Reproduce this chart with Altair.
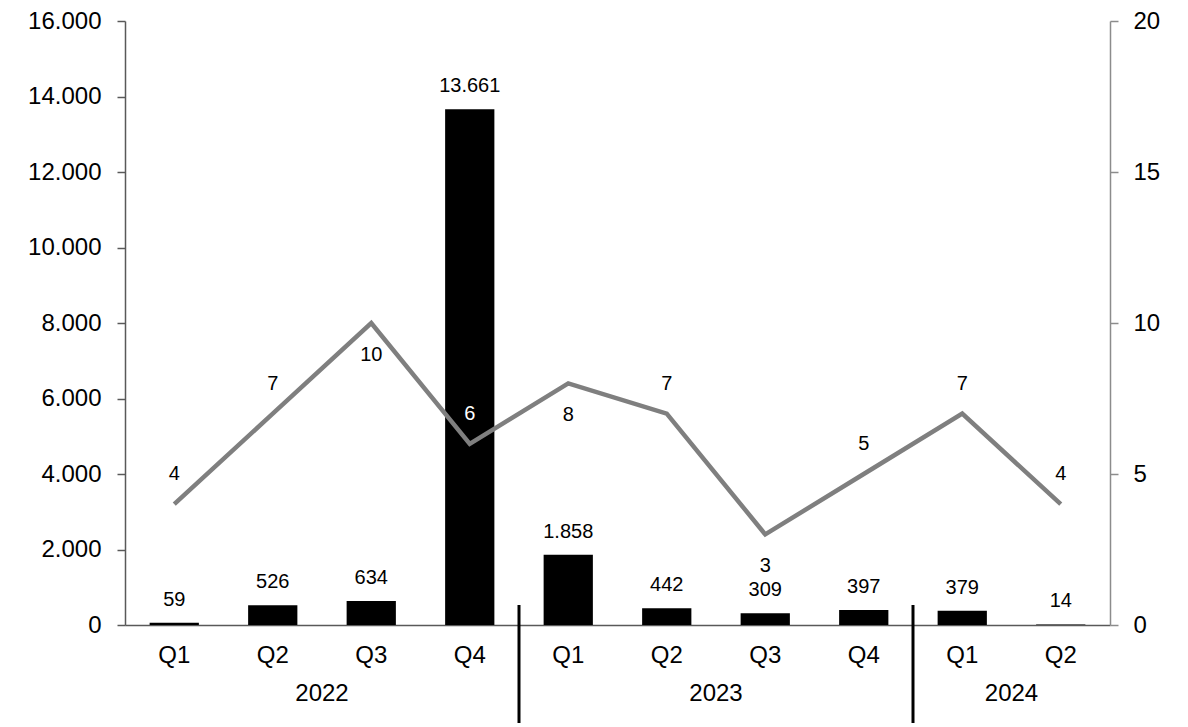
import altair as alt
import pandas as pd

quarters = ["Q1", "Q2", "Q3", "Q4", "Q1", "Q2", "Q3", "Q4", "Q1", "Q2"]
years = ["2022", "2022", "2022", "2022", "2023", "2023", "2023", "2023", "2024", "2024"]
volume = [59, 526, 634, 13661, 1858, 442, 309, 397, 379, 14]
count = [4, 7, 10, 6, 8, 7, 3, 5, 7, 4]
left_ticks = [0, 2000, 4000, 6000, 8000, 10000, 12000, 14000, 16000]
right_ticks = [0, 5, 10, 15, 20]

keys = [f"{y} {q}" for y, q in zip(years, quarters)]
df = pd.DataFrame({"key": keys, "quarter": quarters, "year": years,
                   "volume": volume, "count": count})

# year groups: separators at first quarter of each new year, label at group middle
year_rows = []
sep_keys = []
uniq_years = list(dict.fromkeys(years))
for y in uniq_years:
    idx = [i for i, yy in enumerate(years) if yy == y]
    year_rows.append({"key": keys[idx[0] + len(idx) // 2 - 1], "year": y})
    if idx[0] > 0:
        sep_keys.append(keys[idx[0]])
year_df = pd.DataFrame(year_rows)
sep_df = pd.DataFrame({"key": sep_keys})

FONT = "Liberation Sans"
W, H = 985, 604
TICK_FS = 24
LBL_FS = 20
xscale = alt.Scale(domain=keys, paddingInner=0, paddingOuter=0)
fmt = "replace(format(datum.value, ','), ',', '.')"

xaxis = alt.Axis(labelExpr="split(datum.label, ' ')[1]", labelAngle=0,
                 ticks=False, tickSize=0, labelFontSize=TICK_FS, labelPadding=18,
                 labelColor="black", labelFont=FONT, grid=False,
                 domainColor="#595959", domainWidth=1.5)
leftaxis = alt.Axis(values=left_ticks, labelExpr=fmt, grid=False,
                    labelFontSize=TICK_FS, labelFont=FONT, labelColor="black",
                    labelPadding=16, tickSize=8, tickColor="#595959",
                    domainColor="#595959", domainWidth=1.5, tickWidth=1.5)
rightaxis = alt.Axis(orient="right", values=right_ticks, grid=False,
                     labelFontSize=TICK_FS, labelFont=FONT, labelColor="black",
                     labelPadding=15, tickSize=8, tickColor="#8c8c8c",
                     domainColor="#8c8c8c", domainWidth=1.5, tickWidth=1.5)

def X(bp=None):
    if bp is None:
        return alt.X("key:N", scale=xscale, title=None, axis=xaxis)
    return alt.X("key:N", scale=xscale, title=None, axis=xaxis, bandPosition=bp)

yleft = alt.Y("volume:Q", scale=alt.Scale(domain=[0, 16000], nice=False), title=None,
              axis=leftaxis)
yright = alt.Y("count:Q", scale=alt.Scale(domain=[0, 20], nice=False), title=None,
               axis=rightaxis)

base = alt.Chart(df)

bars = base.mark_bar(color="black", width={"band": 0.5}).encode(x=X(), y=yleft)
bar_text = base.transform_calculate(
    lbl="replace(format(datum.volume, ','), ',', '.')"
).mark_text(dy=-23, baseline="middle", fontSize=LBL_FS, font=FONT, color="black").encode(
    x=X(), y=yleft, text="lbl:N")

left = alt.layer(bars, bar_text)

line = base.mark_line(color="#7f7f7f", strokeWidth=4.5).encode(x=X(), y=yright)
below = ["2022 Q3", "2023 Q1", "2023 Q3"]
white = ["2022 Q4"]
lt_above = base.transform_filter(
    ~alt.FieldOneOfPredicate(field="key", oneOf=below)
).mark_text(dy=-30, baseline="middle", fontSize=LBL_FS, font=FONT).encode(
    x=X(), y=yright, text="count:Q",
    color=alt.condition(alt.FieldOneOfPredicate(field="key", oneOf=white),
                        alt.value("white"), alt.value("black")))
lt_below = base.transform_filter(
    alt.FieldOneOfPredicate(field="key", oneOf=below)
).mark_text(dy=32, baseline="middle", fontSize=LBL_FS, font=FONT, color="black").encode(
    x=X(), y=yright, text="count:Q")

right = alt.layer(line, lt_above, lt_below)

seps = alt.Chart(sep_df).mark_rule(color="black", strokeWidth=3, clip=False).encode(
    x=X(0), y=alt.value(H - 20), y2=alt.value(H + 120))

year_text = alt.Chart(year_df).mark_text(fontSize=TICK_FS, font=FONT, color="black",
                                         baseline="middle").encode(
    x=X(1), y=alt.value(H + 69), text="year:N")

chart = alt.layer(left, right, seps, year_text).resolve_scale(
    y="independent"
).properties(
    width=W, height=H,
    autosize=alt.AutoSizeParams(type="none"),
    padding={"left": 117, "top": 13, "right": 70, "bottom": 98},
).configure(font=FONT, view=alt.ViewConfig(stroke=None))

chart.save("out.html", embed_options={"renderer": "svg", "actions": False})
